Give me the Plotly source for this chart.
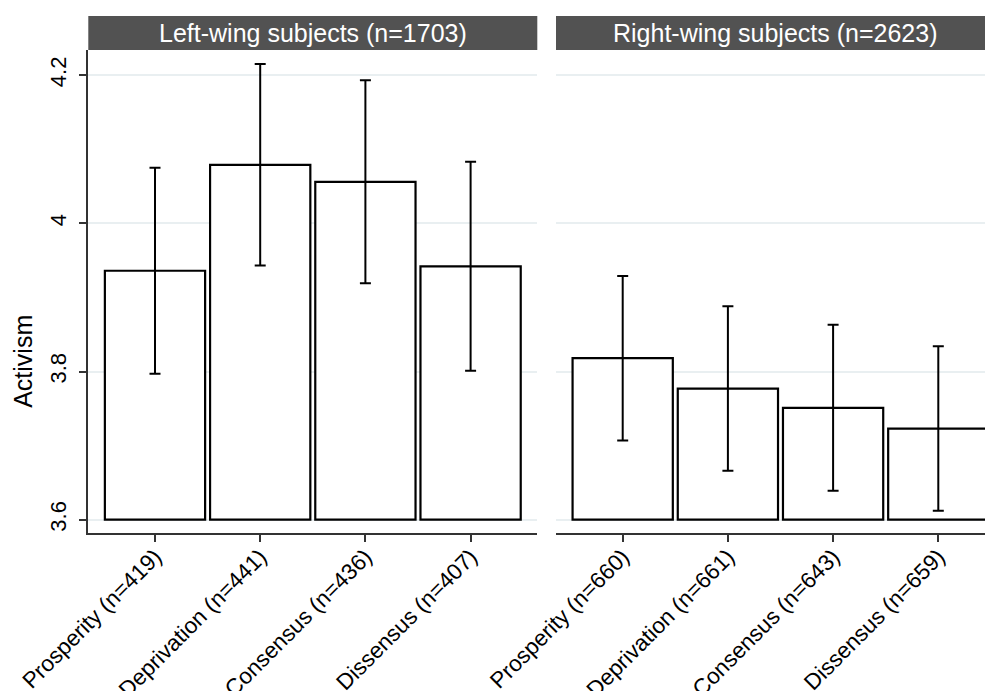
import plotly.graph_objects as go

# ---------------- data ----------------
left_categories = ["Prosperity (n=419)", "Deprivation (n=441)", "Consensus (n=436)", "Dissensus (n=407)"]
right_categories = ["Prosperity (n=660)", "Deprivation (n=661)", "Consensus (n=643)", "Dissensus (n=659)"]
left_means = [3.936, 4.079, 4.056, 3.942]
left_ci = [0.139, 0.136, 0.137, 0.141]
right_means = [3.818, 3.777, 3.751, 3.723]
right_ci = [0.111, 0.111, 0.112, 0.111]
panel_titles = ["Left-wing subjects (n=1703)", "Right-wing subjects (n=2623)"]
y_title = "Activism"
baseline = 3.6
y_tick_values = [3.6, 3.8, 4.0, 4.2]
y_tick_labels = ["3.6", "3.8", "4", "4.2"]

# ---------------- style ----------------
FONT = "Liberation Sans, Arial, Helvetica, sans-serif"
OFF = 8  # default page margin of the html body
W, H = 993 - OFF, 691 - OFF
TOP = 50 - OFF          # top of plot area (figure px)
AXIS_Y = 533.3 - OFF    # x-axis line (figure px)
M_T, M_B = TOP, H - AXIS_Y
PLOT_H = H - M_T - M_B
left_dom = [(88.3 - OFF) / W, (537.3 - OFF) / W]
right_dom = [(556.0 - OFF) / W, 1.0]
header_col = "#525252"
grid_col = "#e9eff1"

fig = go.Figure()

def add_panel(cats, means, ci, xa, ya):
    fig.add_trace(go.Bar(
        x=cats,
        y=[m - baseline for m in means],
        base=baseline,
        marker=dict(color="white", line=dict(color="black", width=2.2)),
        error_y=dict(type="data", array=ci, visible=True, color="black",
                     thickness=2, width=5.5),
        xaxis=xa, yaxis=ya, showlegend=False,
    ))

add_panel(left_categories, left_means, left_ci, "x", "y")
add_panel(right_categories, right_means, right_ci, "x2", "y2")

xcommon = dict(type="category", showline=True, linecolor="#333333", linewidth=1.5,
               ticks="outside", ticklen=7, tickwidth=1.5, tickcolor="#333333",
               tickangle=-45, ticklabelstandoff=-7,
               showgrid=False, zeroline=False, automargin=False,
               tickfont=dict(family=FONT, size=22.5, color="black"))
ycommon = dict(range=[3.582, 4.234], tickvals=y_tick_values, ticktext=y_tick_labels,
               showgrid=True, gridcolor=grid_col, gridwidth=1.5, zeroline=False,
               automargin=False)

fig.update_layout(
    width=W, height=H,
    margin=dict(l=0, r=0, t=M_T, b=M_B, pad=0),
    paper_bgcolor="white", plot_bgcolor="white",
    bargap=0.047,
    font=dict(family=FONT, color="black"),
    xaxis=dict(domain=left_dom, range=[-0.634, 3.634], anchor="y",
               categoryorder="array", categoryarray=left_categories, **xcommon),
    xaxis2=dict(domain=right_dom, range=[-0.634, 3.52], anchor="y2",
                categoryorder="array", categoryarray=right_categories, **xcommon),
    yaxis=dict(anchor="x", showline=True, linecolor="#333333", linewidth=1.5,
               ticks="outside", ticklen=8, tickwidth=1.5, tickcolor="#333333",
               tickangle=-90, ticklabelstandoff=4,
               tickfont=dict(family=FONT, size=22, color="black"), **ycommon),
    yaxis2=dict(anchor="x2", showline=False, showticklabels=False, ticks="",
                matches="y", **ycommon),
)

hdr_top = 1 + 34 / PLOT_H
for dom, title in zip([left_dom, right_dom], panel_titles):
    fig.add_shape(type="rect", xref="paper", yref="paper",
                  x0=dom[0], x1=dom[1], y0=1.0, y1=hdr_top,
                  fillcolor=header_col, line=dict(width=0), layer="above")
    fig.add_annotation(xref="paper", yref="paper", x=(dom[0] + dom[1]) / 2,
                       y=(1.0 + hdr_top) / 2, text=title, showarrow=False,
                       xanchor="center", yanchor="middle",
                       font=dict(family=FONT, size=25, color="white"))

fig.add_annotation(xref="paper", yref="paper", x=(23 - OFF) / W,
                   y=1 - (362 - 50) / PLOT_H,
                   text=y_title, textangle=-90, showarrow=False,
                   xanchor="center", yanchor="middle",
                   font=dict(family=FONT, size=25, color="black"))

fig.write_html("out.html")
